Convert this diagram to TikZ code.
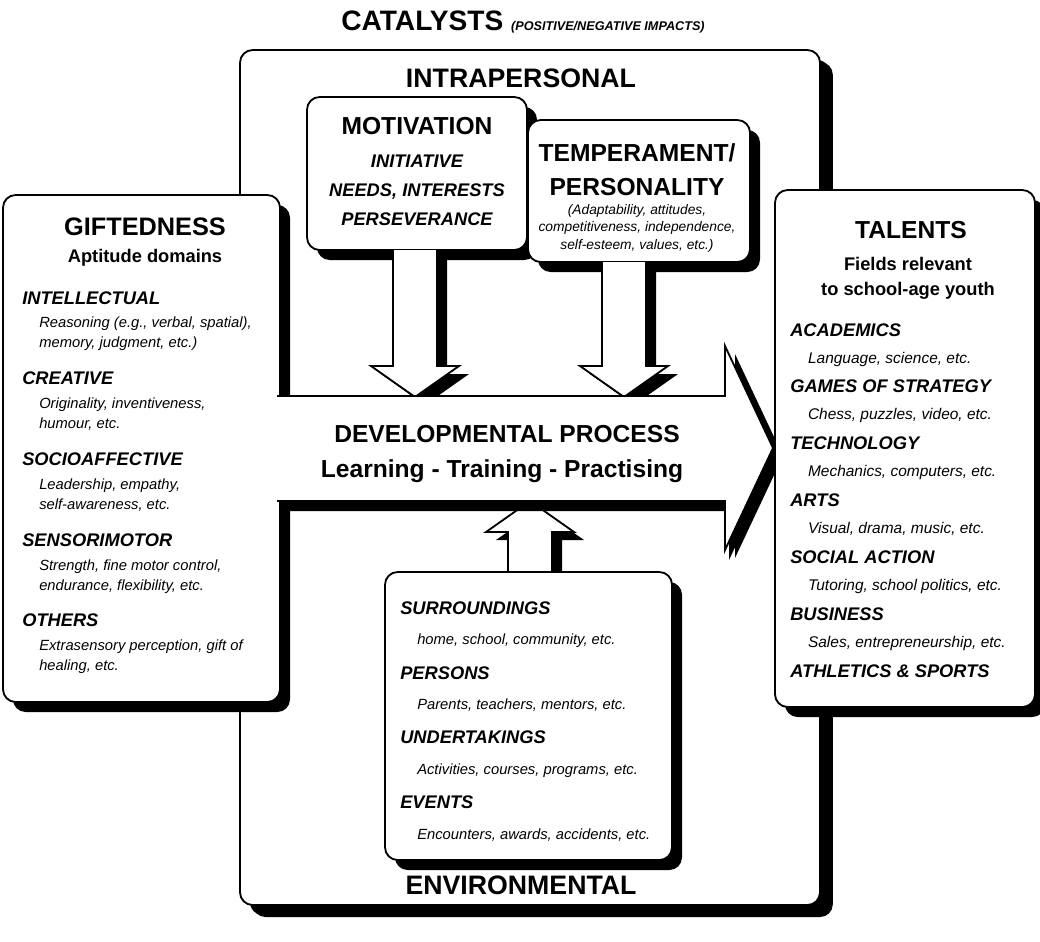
\documentclass[tikz,border=0pt]{standalone}
\usepackage{fontspec}
\setmainfont{Liberation Sans}
\usetikzlibrary{shadows,positioning}

\newcommand{\bigf}{\fontsize{18}{22}\selectfont\bfseries}
\newcommand{\midf}{\fontsize{13}{15}\selectfont\bfseries}
\newcommand{\hdf}{\fontsize{13}{15}\selectfont\bfseries\itshape}
\newcommand{\ind}{\hspace*{1.15em}}

\tikzset{
  panel/.style={draw, fill=white, line width=1.3pt, rounded corners=9pt,
    general shadow={fill=black, shadow xshift=2.5mm, shadow yshift=-2.5mm}},
  blockarrow/.style={draw, fill=white, line width=1.3pt,
    general shadow={fill=black, shadow xshift=2.5mm, shadow yshift=-2mm}},
  title/.style={inner sep=0pt, font=\bigf},
  listing/.style={inner sep=0pt, align=left, anchor=north west}
}

\begin{document}
\begin{tikzpicture}[x=0.25mm, y=-0.25mm]
\useasboundingbox (0,0) rectangle (1040,941);

% catalysts frame
\draw[panel, general shadow={fill=black, shadow xshift=3.2mm, shadow yshift=-3mm}]
  (240,50) rectangle (820,905);
\node[title, font=\fontsize{20}{22}\selectfont\bfseries] (catal) at (523,22)
  {CATALYSTS {\fontsize{9}{11}\selectfont\itshape (POSITIVE/NEGATIVE IMPACTS)}};
\node[title, font=\fontsize{19}{22}\selectfont\bfseries] (intra) at (521,78) {INTRAPERSONAL};
\node[title, font=\fontsize{19}{22}\selectfont\bfseries] (envir) at (521,885) {ENVIRONMENTAL};

% intrapersonal boxes
\draw[panel] (307,97) rectangle (527,250);
\node[title, font=\fontsize{17.5}{20}\selectfont\bfseries] (motiv) at (417,126) {MOTIVATION};
\node[inner sep=0pt, align=center, font=\fontsize{13}{20.6}\selectfont\bfseries\itshape]
  (motivtxt) at (417,190) {INITIATIVE\\NEEDS, INTERESTS\\PERSEVERANCE};

\draw[panel] (528,120) rectangle (750,262);
\node[inner sep=0pt, align=center, font=\fontsize{17.5}{24}\selectfont\bfseries]
  (temper) at (637,170) {TEMPERAMENT/\\PERSONALITY};
\node[inner sep=0pt, align=center, font=\fontsize{9.8}{12.4}\selectfont\itshape]
  (tempertxt) at (637,228) {(Adaptability, attitudes,\\competitiveness, independence,\\self-esteem, values, etc.)};

\coordinate (motivout) at (415,250);
\coordinate (temperout) at (624,262);

\draw[blockarrow] ([xshift=-5.5mm]motivout) -- (393,366) -- (371,366) -- (415,397)
  -- (459,366) -- (437,366) -- ([xshift=5.5mm]motivout);
\draw[blockarrow] ([xshift=-5.5mm]temperout) -- (602,366) -- (580,366) -- (624,397)
  -- (668,366) -- (646,366) -- ([xshift=5.5mm]temperout);

% environmental box
\coordinate (envout) at (530,572);
\draw[blockarrow] ([xshift=-5.5mm]envout) -- (508,532) -- (486,532) -- (530,501)
  -- (574,532) -- (552,532) -- ([xshift=5.5mm]envout);
\draw[panel] (385,572) rectangle (672,860);
\node[listing, font=\fontsize{10.5}{22}\selectfont\itshape] (envtxt) at (400,601) {%
  {\hdf SURROUNDINGS}\\
  \ind home, school, community, etc.\\[2.2pt]
  {\hdf PERSONS}\\
  \ind Parents, teachers, mentors, etc.\\[2.2pt]
  {\hdf UNDERTAKINGS}\\
  \ind Activities, courses, programs, etc.\\[2.2pt]
  {\hdf EVENTS}\\
  \ind Encounters, awards, accidents, etc.};

% giftedness
\draw[panel] (3,195) rectangle (280,702);
\node[title, font=\fontsize{18}{22}\selectfont\bfseries] (gift) at (145,227) {GIFTEDNESS};
\node[inner sep=0pt, font=\midf] (giftsub) at (145,258) {Aptitude domains};
\node[listing, font=\fontsize{10.5}{14.2}\selectfont\itshape] (gifttxt) at (22,291) {%
  {\hdf INTELLECTUAL}\\[2.8pt]
  \ind Reasoning (e.g., verbal, spatial),\\
  \ind memory, judgment, etc.)\\[12pt]
  {\hdf CREATIVE}\\[2.8pt]
  \ind Originality, inventiveness,\\
  \ind humour, etc.\\[12pt]
  {\hdf SOCIOAFFECTIVE}\\[2.8pt]
  \ind Leadership, empathy,\\
  \ind self-awareness, etc.\\[12pt]
  {\hdf SENSORIMOTOR}\\[2.8pt]
  \ind Strength, fine motor control,\\
  \ind endurance, flexibility, etc.\\[12pt]
  {\hdf OTHERS}\\[2.8pt]
  \ind Extrasensory perception, gift of\\
  \ind healing, etc.};

% developmental process
\draw[blockarrow, general shadow={fill=black, shadow xshift=1mm, shadow yshift=-2.5mm}]
  (277,396) -- (725,396) -- (725,346) -- (773,448) -- (725,550) -- (725,501) -- (277,501);
\node[title, font=\fontsize{17.5}{20}\selectfont\bfseries] (devproc) at (507,434) {DEVELOPMENTAL PROCESS};
\node[title, font=\fontsize{17.5}{20}\selectfont\bfseries] (learn) at (502,471) {Learning - Training - Practising};

% talents
\draw[panel] (775,190) rectangle (1035,707);
\node[title, font=\fontsize{17.5}{20}\selectfont\bfseries] (talent) at (911,230) {TALENTS};
\node[inner sep=0pt, align=center, font=\fontsize{13}{17.8}\selectfont\bfseries]
  (talentsub) at (908,278) {Fields relevant\\to school-age youth};
\node[listing, font=\fontsize{11}{19.2}\selectfont\itshape] (talenttxt) at (790,323) {%
  {\hdf ACADEMICS}\\
  \ind Language, science, etc.\\[2.1pt]
  {\hdf GAMES OF STRATEGY}\\
  \ind Chess, puzzles, video, etc.\\[2.1pt]
  {\hdf TECHNOLOGY}\\
  \ind Mechanics, computers, etc.\\[2.1pt]
  {\hdf ARTS}\\
  \ind Visual, drama, music, etc.\\[2.1pt]
  {\hdf SOCIAL ACTION}\\
  \ind Tutoring, school politics, etc.\\[2.1pt]
  {\hdf BUSINESS}\\
  \ind Sales, entrepreneurship, etc.\\[2.1pt]
  {\hdf ATHLETICS \& SPORTS}};

\end{tikzpicture}
\end{document}
